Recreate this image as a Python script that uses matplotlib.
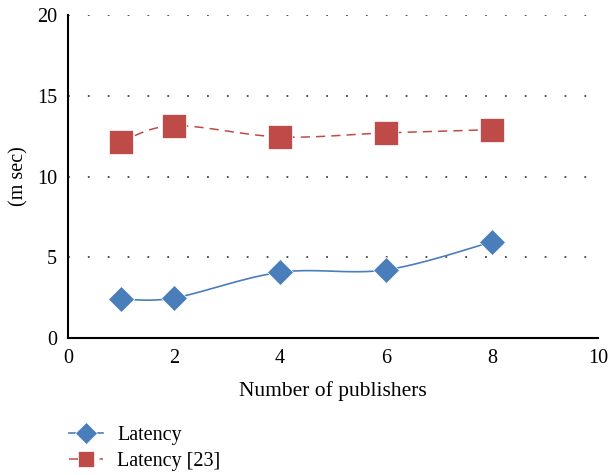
import numpy as np
import matplotlib
matplotlib.use('Agg')
import matplotlib.pyplot as plt

publishers = [1, 2, 4, 6, 8]
latency = [2.42, 2.48, 4.07, 4.22, 5.95]
latency_23 = [12.15, 13.15, 12.45, 12.7, 12.9]

x_ticks = [0, 2, 4, 6, 8, 10]
y_ticks = [0, 5, 10, 15, 20]


def smooth(xs, ys, n=30):
    # Catmull-Rom style curve through the points (like Excel smoothed lines)
    xs = np.asarray(xs, float)
    ys = np.asarray(ys, float)
    px = np.concatenate([[xs[0]], xs, [xs[-1]]])
    py = np.concatenate([[ys[0]], ys, [ys[-1]]])
    out_x, out_y = [], []
    t = np.linspace(0, 1, n)
    for i in range(1, len(px) - 2):
        p0, p1, p2, p3 = [np.array([px[j], py[j]]) for j in range(i - 1, i + 3)]
        b1 = p1 + (p2 - p0) / 6
        b2 = p2 - (p3 - p1) / 6
        pts = ((1 - t) ** 3)[:, None] * p1 + (3 * (1 - t) ** 2 * t)[:, None] * b1 \
            + (3 * (1 - t) * t ** 2)[:, None] * b2 + (t ** 3)[:, None] * p2
        out_x.extend(pts[:, 0])
        out_y.extend(pts[:, 1])
    return out_x, out_y


plt.rcParams['font.family'] = ['Liberation Serif', 'DejaVu Serif']

fig = plt.figure(figsize=(6.08, 4.75), dpi=100)
ax = fig.add_axes([0.1118, 0.2884, 0.8718, 0.68])

blue = '#4A7EBB'
red = '#BE4B48'

sx, sy = smooth(publishers, latency)
ax.plot(sx, sy, color=blue, lw=1.2)
ax.plot(publishers, latency, ls='none', marker='D', ms=13.5, color=blue, mec='white', mew=0.5)

sx, sy = smooth(publishers, latency_23)
ax.plot(sx, sy, color=red, lw=1.1, dashes=(6, 4))
ax.plot(publishers, latency_23, ls='none', marker='s', ms=17, color=red, mec='white', mew=0.5)

ax.set_xlim(0, 10)
ax.set_ylim(0, 20)
ax.set_xticks(x_ticks)
ax.set_yticks(y_ticks)
ax.tick_params(length=0, labelsize=14.5, pad=8)

for y in y_ticks[1:]:
    ax.axhline(y, color='#444444', lw=1.3, ls=(0, (1, 10)), zorder=0)

for s in ['top', 'right']:
    ax.spines[s].set_visible(False)
for s in ['left', 'bottom']:
    ax.spines[s].set_linewidth(1.5)
    ax.spines[s].set_color('black')

ax.set_xlabel('Number of publishers', fontsize=15.5, labelpad=9)
ax.set_ylabel('(m sec)', fontsize=14.5, labelpad=6)

h1, = plt.plot([], [], color=blue, lw=1.2, marker='D', ms=11, mec='white', mew=0.5)
h2, = plt.plot([], [], color=red, lw=1.1, dashes=(6, 4), marker='s', ms=12, mec='white', mew=0.5)
fig.legend([h1, h2], ['Latency', 'Latency [23]'], loc='upper left',
           bbox_to_anchor=(0.1, 0.12), frameon=False, fontsize=14.5,
           handlelength=1.7, labelspacing=0.33, borderaxespad=0, handletextpad=0.7)

fig.savefig('out.png', dpi=100)
